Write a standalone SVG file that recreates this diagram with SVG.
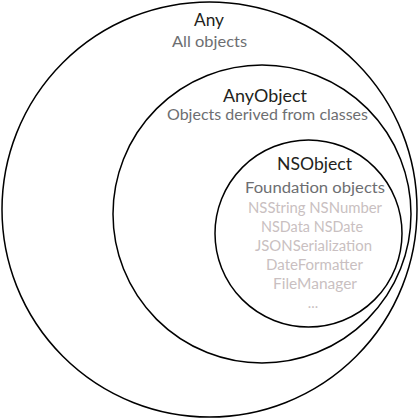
<svg xmlns="http://www.w3.org/2000/svg" width="419" height="419" viewBox="0 0 419 419">
<style>
.c{fill:none;stroke:#000;stroke-width:1.5}
text{font-family:Lato,"Open Sans",sans-serif;text-anchor:middle}
.t{fill:#231f20;font-size:17px}
.s{fill:#6d6e71;font-size:15.5px}
.l{fill:#c9bfc1;font-size:14.5px}
</style>
<rect width="419" height="419" fill="#fff"/>
<g id="any">
<circle class="c" cx="209.5" cy="209.5" r="207.5"/>
<text class="t" x="209" y="26" textLength="30" lengthAdjust="spacingAndGlyphs">Any</text>
<text class="s" x="209.5" y="47" textLength="75" lengthAdjust="spacingAndGlyphs">All objects</text>
</g>
<g id="anyobject">
<circle class="c" cx="262" cy="214" r="149"/>
<text class="t" x="265" y="102" textLength="84" lengthAdjust="spacingAndGlyphs">AnyObject</text>
<text class="s" x="267.5" y="120" textLength="201" lengthAdjust="spacingAndGlyphs">Objects derived from classes</text>
</g>
<g id="nsobject">
<circle class="c" cx="308.5" cy="233.5" r="93.5"/>
<text class="t" x="314.5" y="170" textLength="75" lengthAdjust="spacingAndGlyphs">NSObject</text>
<text class="s" x="315" y="193" textLength="140" lengthAdjust="spacingAndGlyphs">Foundation objects</text>
<text class="l" x="315" y="213" textLength="134" lengthAdjust="spacingAndGlyphs">NSString NSNumber</text>
<text class="l" x="312" y="232" textLength="102" lengthAdjust="spacingAndGlyphs">NSData NSDate</text>
<text class="l" x="313.5" y="251" textLength="117" lengthAdjust="spacingAndGlyphs">JSONSerialization</text>
<text class="l" x="314.5" y="270" textLength="97" lengthAdjust="spacingAndGlyphs">DateFormatter</text>
<text class="l" x="315" y="289" textLength="84" lengthAdjust="spacingAndGlyphs">FileManager</text>
<text class="l" x="313" y="308">...</text>
</g>
</svg>
